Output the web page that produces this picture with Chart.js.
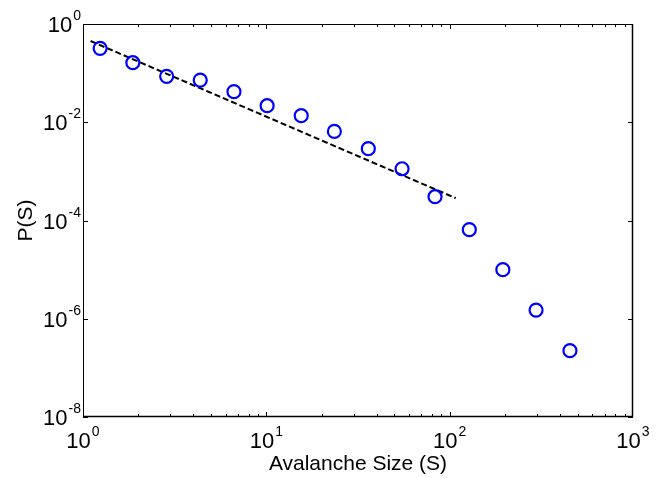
<!DOCTYPE html>
<html>
<head>
<meta charset="utf-8">
<script src="https://cdn.jsdelivr.net/npm/chart.js@4"></script>
<style>
  html, body { margin: 0; padding: 0; background: #fff; }
  #wrap { width: 660px; height: 478px; }
</style>
</head>
<body>
<div id="wrap"><canvas id="g1"></canvas></div>
<script>
// data
var sizes = [1.24, 1.87, 2.86, 4.36, 6.66, 10.1, 15.5, 23.5, 36.0, 55.0, 83.2, 128, 195, 296, 453];
var probs = [0.32, 0.163, 0.086, 0.072, 0.042, 0.0217, 0.0136, 0.0065, 0.0029, 0.00113, 3.05e-4, 6.5e-5, 1.0e-5, 1.5e-6, 2.24e-7];

// dashed power-law fit (end points)
var fitX = [1.1, 108];
var fitY = [0.45, 2.85e-4];

// tick labels (exponents of ten)
var xTickExps = [0, 1, 2, 3];
var yTickExps = [0, -2, -4, -6, -8];

var FONT = "'Liberation Sans', Arial, sans-serif";

var points = sizes.map(function(s, i) { return {x: s, y: probs[i]}; });
var fitLine = fitX.map(function(s, i) { return {x: s, y: fitY[i]}; });

// matlab style frame, inward ticks and 10^n labels
var matlabAxes = {
    id: 'matlabAxes',
    afterDraw: function(chart) {
        var ctx = chart.ctx;
        var a = chart.chartArea;
        var xs = chart.scales.x, ys = chart.scales.y;
        ctx.save();
        ctx.strokeStyle = '#000';
        ctx.lineWidth = 1;
        ctx.strokeRect(a.left + 0.5, a.top + 0.5, a.right - a.left - 1, a.bottom - a.top - 1);
        ctx.lineWidth = 1.5;
        ctx.beginPath();
        ctx.moveTo(a.left, a.bottom - 0.5);
        ctx.lineTo(a.right, a.bottom - 0.5);
        ctx.moveTo(a.right - 0.5, a.top);
        ctx.lineTo(a.right - 0.5, a.bottom);
        ctx.stroke();

        // x ticks, major + minor
        ctx.lineWidth = 1;
        ctx.beginPath();
        for (var d = 0; d < 3; d++) {
            for (var m = 1; m <= 9; m++) {
                var px = Math.round(xs.getPixelForValue(m * Math.pow(10, d))) + 0.5;
                var len = (m == 1) ? 5 : 3;
                ctx.moveTo(px, a.bottom); ctx.lineTo(px, a.bottom - len);
                ctx.moveTo(px, a.top); ctx.lineTo(px, a.top + len);
            }
        }
        ctx.stroke();

        // y ticks
        ctx.beginPath();
        yTickExps.forEach(function(e) {
            var py = Math.round(ys.getPixelForValue(Math.pow(10, e))) + 0.5;
            ctx.moveTo(a.left, py); ctx.lineTo(a.left + 5, py);
            ctx.moveTo(a.right, py); ctx.lineTo(a.right - 5, py);
        });
        ctx.stroke();

        ctx.fillStyle = '#000';
        ctx.textBaseline = 'alphabetic';
        ctx.textAlign = 'left';
        var bigF = '22px ' + FONT, smallF = '14px ' + FONT;

        function label(e, x0, base) {
            ctx.font = bigF;
            var w1 = ctx.measureText('10').width;
            ctx.fillText('10', x0, base);
            ctx.font = smallF;
            ctx.fillText(String(e), x0 + w1 + 1, base - 12);
        }
        function width(e) {
            ctx.font = bigF;
            var w1 = ctx.measureText('10').width;
            ctx.font = smallF;
            return w1 + 1 + ctx.measureText(String(e)).width;
        }

        xTickExps.forEach(function(e) {
            var px = xs.getPixelForValue(Math.pow(10, e));
            label(e, px - width(e) / 2, 448);
        });
        yTickExps.forEach(function(e) {
            var py = ys.getPixelForValue(Math.pow(10, e));
            label(e, 81 - width(e), py + 8);
        });

        // axis titles
        ctx.font = '21px ' + FONT;
        ctx.textAlign = 'center';
        ctx.fillText('Avalanche Size (S)', (a.left + a.right) / 2, 470);
        ctx.save();
        ctx.translate(32, (a.top + a.bottom) / 2);
        ctx.rotate(-Math.PI / 2);
        ctx.fillText('P(S)', 0, 0);
        ctx.restore();
        ctx.restore();
    }
};

var ctx = document.getElementById('g1');

var myChart = new Chart(ctx, {
    type: 'scatter',
    data: {
        datasets: [{
            label: 'data',
            data: points,
            pointStyle: 'circle',
            pointRadius: 6.5,
            pointHoverRadius: 6.5,
            pointBorderWidth: 2.2,
            pointBorderColor: '#0000ff',
            pointBackgroundColor: 'rgba(0,0,0,0)',
            showLine: false,
            order: 0
        }, {
            label: 'fit',
            data: fitLine,
            showLine: true,
            borderColor: '#000',
            borderWidth: 2,
            borderDash: [6, 3],
            pointRadius: 0,
            fill: false,
            order: 1
        }]
    },
    options: {
        responsive: true,
        maintainAspectRatio: false,
        animation: false,
        layout: {
            padding: {left: 83, right: 27, top: 24, bottom: 61}
        },
        plugins: {
            legend: {display: false},
            tooltip: {enabled: false}
        },
        scales: {
            x: {
                type: 'logarithmic',
                min: 1,
                max: 1000,
                display: false
            },
            y: {
                type: 'logarithmic',
                min: 1e-8,
                max: 1,
                display: false
            }
        }
    },
    plugins: [matlabAxes]
});
</script>
</body>
</html>
